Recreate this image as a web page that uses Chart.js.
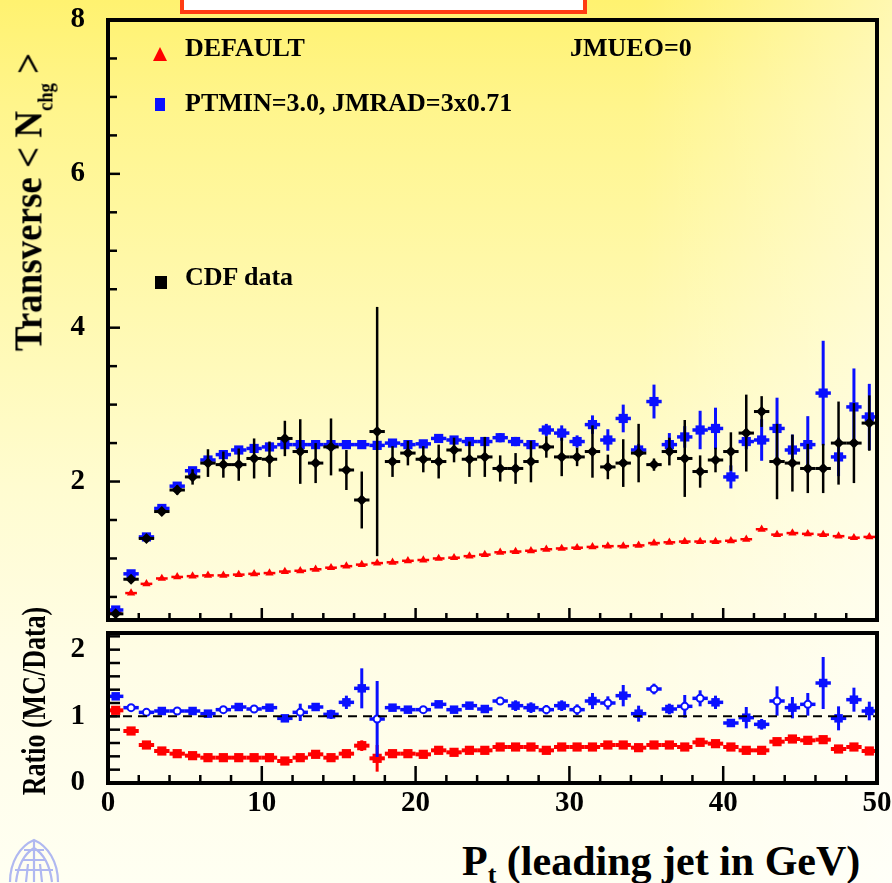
<!DOCTYPE html>
<html><head><meta charset="utf-8">
<script src="https://cdn.jsdelivr.net/npm/chart.js@4.4.1/dist/chart.umd.min.js"></script>
<style>
html,body{margin:0;padding:0;width:892px;height:883px;overflow:hidden}
body{position:relative;
 background:
  linear-gradient(to right, rgba(255,255,255,0) 72%, rgba(255,255,255,0.45) 100%),
  linear-gradient(to bottom, #fff270 0%, #fff58c 12%, #fff9b0 35%, #fffcd0 55%, #fffde6 75%, #fffff2 100%);
 font-family:"Liberation Serif","DejaVu Serif",serif;font-weight:bold;color:#000}
canvas{position:absolute;left:0}
#c1{top:0}
#c2{top:624px}
.t{position:absolute;white-space:nowrap;line-height:1}
.leg{font-size:26px}
.rot{position:absolute;width:0;height:0}
.rot > span{position:absolute;left:0;top:0;white-space:nowrap;line-height:1;transform-origin:center center}
.sub{position:relative;font-size:0.5em}
#redbox{position:absolute;left:180px;top:-30px;width:407px;height:44px;box-sizing:border-box;border:4px solid #ff3c12;background:#fff}
</style></head>
<body>
<div id="redbox"></div>
<canvas id="c1" width="892" height="640" style="width:892px;height:640px"></canvas>
<canvas id="c2" width="892" height="210" style="width:892px;height:210px"></canvas>

<!-- legend -->
<svg style="position:absolute;left:153px;top:47px" width="14" height="14"><polygon points="7,0 14,14 0,14" fill="#ff0000"/></svg>
<div class="t leg" style="left:185px;top:35px">DEFAULT</div>
<div class="t leg" style="left:570px;top:35px">JMUEO=0</div>
<div style="position:absolute;left:155px;top:98px;width:10px;height:13px;background:#0a10ff"></div>
<div class="t leg" style="left:185px;top:90px">PTMIN=3.0, JMRAD=3x0.71</div>
<div style="position:absolute;left:155px;top:276px;width:12px;height:13px;background:#000"></div>
<div class="t leg" style="left:185px;top:264px">CDF data</div>

<!-- axis titles -->
<div class="rot" style="left:28px;top:202px"><span style="font-size:37px;transform:translate(-50%,-50%) rotate(-90deg) scaleY(1.1)">Transverse &lt; N<span class="sub" style="top:0.55em">chg</span> &gt;</span></div>
<div class="rot" style="left:35px;top:701px"><span style="font-size:26px;transform:translate(-50%,-50%) rotate(-90deg) scaleY(1.3)">Ratio (MC/Data)</span></div>
<div class="t" style="left:462px;top:840px;font-size:42px">P<span class="sub" style="font-size:0.62em;top:0.3em">t</span> (leading jet in GeV)</div>

<!-- logo -->
<svg style="position:absolute;left:6px;top:836px;opacity:0.55" width="56" height="47" viewBox="0 0 56 47">
 <g fill="none" stroke="#6f7ff0" stroke-width="2.2">
  <path d="M4,46 C4,26 14,10 28,4 C42,10 52,26 52,46"/>
  <path d="M10,46 C12,30 18,18 28,12 C38,18 44,30 46,46"/>
  <path d="M28,4 L28,46 M16,24 L40,24 M9,34 L47,34 M18,14 L38,14"/>
  <path d="M20,46 L22,28 M36,46 L34,28"/>
 </g>
</svg>

<script>
// ---------------- data ----------------
const binCenters = [0.5,1.5,2.5,3.5,4.5,5.5,6.5,7.5,8.5,9.5,10.5,11.5,12.5,13.5,14.5,15.5,16.5,17.5,18.5,19.5,
  20.5,21.5,22.5,23.5,24.5,25.5,26.5,27.5,28.5,29.5,30.5,31.5,32.5,33.5,34.5,35.5,36.5,37.5,38.5,39.5,
  40.5,41.5,42.5,43.5,44.5,45.5,46.5,47.5,48.5,49.5];

const defaultVals = [0.30,0.55,0.67,0.74,0.76,0.77,0.78,0.78,0.79,0.80,
  0.81,0.83,0.84,0.86,0.88,0.90,0.92,0.94,0.95,0.97,
  0.98,1.00,1.01,1.03,1.05,1.08,1.09,1.10,1.12,1.13,
  1.14,1.15,1.16,1.16,1.17,1.20,1.21,1.22,1.22,1.22,
  1.23,1.25,1.38,1.31,1.33,1.32,1.31,1.29,1.27,1.28];
const defaultErr = [0.02,0.02,0.02,0.02,0.02,0.02,0.02,0.02,0.02,0.02,0.02,0.02,0.02,0.02,0.02,0.02,0.02,0.02,0.02,0.02,
  0.02,0.02,0.02,0.02,0.02,0.02,0.02,0.02,0.02,0.02,0.02,0.02,0.02,0.02,0.02,0.02,0.02,0.02,0.02,0.02,
  0.02,0.02,0.02,0.02,0.02,0.02,0.02,0.02,0.02,0.02];

const tunedVals = [0.33,0.80,1.28,1.65,1.94,2.14,2.28,2.35,2.41,2.43,
  2.45,2.48,2.48,2.48,2.48,2.48,2.48,2.47,2.50,2.48,
  2.49,2.56,2.54,2.52,2.52,2.57,2.52,2.48,2.67,2.63,
  2.52,2.74,2.54,2.82,2.41,3.04,2.48,2.58,2.67,2.69,
  2.06,2.52,2.54,2.69,2.41,2.48,3.15,2.32,2.97,2.84];
const tunedErr = [0.03,0.03,0.03,0.03,0.03,0.03,0.03,0.03,0.03,0.03,
  0.03,0.03,0.03,0.03,0.03,0.03,0.04,0.04,0.04,0.04,
  0.04,0.05,0.05,0.05,0.05,0.06,0.06,0.06,0.08,0.10,
  0.08,0.12,0.14,0.18,0.08,0.22,0.15,0.14,0.25,0.27,
  0.15,0.10,0.27,0.40,0.20,0.37,0.68,0.25,0.50,0.43];

const cdfVals = [0.28,0.73,1.26,1.61,1.89,2.06,2.24,2.22,2.22,2.30,
  2.29,2.56,2.39,2.24,2.45,2.15,1.76,2.65,2.26,2.37,
  2.29,2.26,2.41,2.29,2.32,2.17,2.17,2.26,2.45,2.32,
  2.32,2.39,2.19,2.24,2.37,2.22,2.39,2.30,2.13,2.28,
  2.39,2.63,2.91,2.26,2.24,2.17,2.17,2.50,2.50,2.76];
const cdfErr = [0.02,0.03,0.04,0.05,0.06,0.10,0.18,0.17,0.21,0.26,
  0.23,0.23,0.42,0.26,0.37,0.26,0.37,1.62,0.20,0.16,
  0.17,0.22,0.16,0.23,0.26,0.17,0.20,0.27,0.14,0.25,
  0.12,0.34,0.16,0.31,0.38,0.08,0.18,0.50,0.21,0.16,
  0.25,0.50,0.20,0.49,0.37,0.32,0.32,0.54,0.52,0.36];

const ratioDefault = [1.09,0.78,0.57,0.48,0.44,0.41,0.38,0.38,0.38,0.38,
  0.38,0.33,0.38,0.43,0.38,0.44,0.56,0.37,0.44,0.44,
  0.43,0.49,0.46,0.49,0.49,0.54,0.54,0.54,0.49,0.54,
  0.54,0.54,0.57,0.57,0.53,0.57,0.57,0.54,0.61,0.59,
  0.54,0.49,0.49,0.62,0.66,0.64,0.65,0.51,0.54,0.48];
const ratioDefaultErr = [0.03,0.03,0.03,0.03,0.03,0.03,0.03,0.03,0.03,0.03,
  0.03,0.03,0.03,0.03,0.03,0.03,0.08,0.20,0.03,0.03,
  0.03,0.03,0.03,0.03,0.03,0.03,0.03,0.03,0.03,0.03,
  0.03,0.03,0.03,0.03,0.03,0.03,0.03,0.03,0.03,0.03,
  0.03,0.03,0.03,0.05,0.05,0.05,0.05,0.05,0.04,0.04];

const ratioTuned = [1.30,1.13,1.06,1.08,1.08,1.08,1.04,1.10,1.14,1.11,
  1.13,0.97,1.06,1.14,1.03,1.21,1.42,0.96,1.13,1.10,
  1.10,1.18,1.10,1.16,1.11,1.23,1.16,1.13,1.10,1.16,
  1.10,1.23,1.20,1.31,1.04,1.41,1.11,1.15,1.27,1.21,
  0.90,0.98,0.88,1.23,1.13,1.18,1.50,0.97,1.25,1.08];
const ratioTunedErr = [0.04,0.04,0.03,0.03,0.03,0.03,0.03,0.04,0.05,0.05,
  0.05,0.05,0.13,0.06,0.07,0.10,0.30,0.57,0.05,0.05,
  0.04,0.05,0.05,0.05,0.05,0.06,0.08,0.08,0.07,0.08,
  0.08,0.12,0.10,0.16,0.12,0.08,0.08,0.17,0.12,0.10,
  0.06,0.16,0.08,0.22,0.16,0.17,0.39,0.18,0.18,0.14];

const upperYTicks = [2,4,6,8];
const ratioYTicks = [0,1,2];
const xTickLabels = [0,10,20,30,40,50];

// ---------------- styling ----------------
const hollowRatioBins = [1,2,4,7,9,12,17,20,25,28,30,32,35,37,38,43,45];
const RED = '#ff0000', BLUE = '#0a10ff', BLACK = '#000000';
const LABEL_FONT = 'bold 29px "Liberation Serif", serif';

const pts = vals => binCenters.map((x,i)=>({x:x, y:vals[i]}));

function plotBox(chart){
  const xs = chart.scales.x, ys = chart.scales.y;
  return {left:xs.getPixelForValue(xs.min), right:xs.getPixelForValue(xs.max),
          top:ys.getPixelForValue(ys.max), bottom:ys.getPixelForValue(ys.min)};
}

const errorBars = {
  id:'errbars',
  beforeDatasetDraw(chart, args){
    const ds = chart.data.datasets[args.index];
    if (!ds.errY) return;
    const ctx = chart.ctx; const a = plotBox(chart);
    const xs = chart.scales.x, ys = chart.scales.y;
    ctx.save();
    ctx.beginPath(); ctx.rect(a.left, a.top, a.right-a.left, a.bottom-a.top); ctx.clip();
    ctx.strokeStyle = ds.barColor; ctx.lineCap = 'butt';
    ds.data.forEach((p,i)=>{
      const cx = xs.getPixelForValue(p.x), cy = ys.getPixelForValue(p.y);
      ctx.lineWidth = ds.barWidthX;
      ctx.beginPath();
      ctx.moveTo(xs.getPixelForValue(p.x - ds.errX), cy);
      ctx.lineTo(xs.getPixelForValue(p.x + ds.errX), cy);
      ctx.stroke();
      const e = ds.errY[i];
      if (e) {
        ctx.lineWidth = ds.barWidthY;
        ctx.beginPath();
        ctx.moveTo(cx, ys.getPixelForValue(p.y - e));
        ctx.lineTo(cx, ys.getPixelForValue(p.y + e));
        ctx.stroke();
      }
    });
    ctx.restore();
  }
};

// frame, inward ticks, tick labels and reference line, all placed through the chart scales
const frame = {
  id:'frame',
  afterDraw(chart, args, o){
    const ctx = chart.ctx; const a = plotBox(chart);
    const xs = chart.scales.x, ys = chart.scales.y;
    ctx.save();
    ctx.strokeStyle = '#000'; ctx.fillStyle = '#000'; ctx.lineCap = 'butt';
    if (o.refLine !== undefined) {
      const py = ys.getPixelForValue(o.refLine);
      ctx.lineWidth = 2; ctx.setLineDash([9,6]);
      ctx.beginPath(); ctx.moveTo(a.left, py); ctx.lineTo(a.right, py); ctx.stroke();
      ctx.setLineDash([]);
    }
    ctx.lineWidth = 2.5;
    const isMul = (v, m) => Math.abs(v/m - Math.round(v/m)) < 1e-6;
    for (let k = Math.ceil(xs.min/o.xMinor - 1e-9); k*o.xMinor <= xs.max + 1e-9; k++) {
      const v = k*o.xMinor; if (v <= xs.min + 1e-9 || v >= xs.max - 1e-9) continue;
      const px = xs.getPixelForValue(v);
      const len = isMul(v, o.xMajor) ? o.xMajorLen : o.xMinorLen;
      ctx.beginPath(); ctx.moveTo(px, a.bottom); ctx.lineTo(px, a.bottom - len); ctx.stroke();
    }
    for (let k = Math.ceil(ys.min/o.yMinor - 1e-9); k*o.yMinor <= ys.max + 1e-9; k++) {
      const v = k*o.yMinor; if (v <= ys.min + 1e-9 || v >= ys.max - 1e-9) continue;
      const py = ys.getPixelForValue(v);
      const len = isMul(v, o.yMajor) ? o.yMajorLen : o.yMinorLen;
      ctx.beginPath(); ctx.moveTo(a.left, py); ctx.lineTo(a.left + len, py); ctx.stroke();
    }
    ctx.lineWidth = 4;
    ctx.strokeRect(a.left, a.top, a.right - a.left, a.bottom - a.top);
    // tick labels
    ctx.font = LABEL_FONT;
    if (o.yLabels) {
      ctx.textAlign = 'right'; ctx.textBaseline = 'middle';
      o.yLabels.forEach(v => ctx.fillText(String(v), a.left - 23, ys.getPixelForValue(v)));
    }
    if (o.xLabels) {
      ctx.textAlign = 'center'; ctx.textBaseline = 'middle';
      o.xLabels.forEach(v => ctx.fillText(String(v), xs.getPixelForValue(v), a.bottom + 21));
    }
    ctx.restore();
  }
};

const hiddenAxis = {grid:{display:false, drawTicks:false}, border:{display:false}, ticks:{display:false}};

// ---------------- upper panel ----------------
new Chart(document.getElementById('c1'), {
  type:'scatter',
  data:{datasets:[
    {label:'CDF data', data:pts(cdfVals), errY:cdfErr, errX:0.5, barColor:BLACK, barWidthX:3, barWidthY:2.5,
     pointStyle:'rectRot', pointRadius:5.5, backgroundColor:BLACK, borderColor:BLACK, borderWidth:0},
    {label:'PTMIN=3.0, JMRAD=3x0.71', data:pts(tunedVals), errY:tunedErr, errX:0.5, barColor:BLUE, barWidthX:3.5, barWidthY:3,
     pointStyle:'rect', pointRadius:6.5, backgroundColor:BLUE, borderColor:BLUE, borderWidth:0},
    {label:'DEFAULT', data:pts(defaultVals), errY:defaultErr, errX:0.38, barColor:RED, barWidthX:2.5, barWidthY:1.5,
     pointStyle:'triangle', pointRadius:4.8, backgroundColor:RED, borderColor:RED, borderWidth:0}
  ]},
  options:{
    responsive:false, animation:false, events:[],
    layout:{autoPadding:false, padding:{left:0, right:15, top:20, bottom:20}},
    plugins:{legend:{display:false}, tooltip:{enabled:false},
      frame:{xMinor:2, xMajor:10, xMinorLen:7, xMajorLen:12, yMinor:0.5, yMajor:2, yMinorLen:9, yMajorLen:12,
             yLabels:upperYTicks}},
    scales:{
      x:{type:'linear', min:0, max:50, display:false},
      y:Object.assign({type:'linear', min:0.2, max:8, afterFit: s => { s.width = 108; }}, hiddenAxis)
    }
  },
  plugins:[errorBars, frame]
});

// ---------------- ratio panel ----------------
new Chart(document.getElementById('c2'), {
  type:'scatter',
  data:{datasets:[
    {label:'PTMIN=3.0, JMRAD=3x0.71 / data', data:pts(ratioTuned), errY:ratioTunedErr, errX:0.5, barColor:BLUE, barWidthX:3.5, barWidthY:3,
     pointStyle: c => hollowRatioBins.includes(c.dataIndex) ? 'circle' : 'rect',
     pointRadius: c => hollowRatioBins.includes(c.dataIndex) ? 3.5 : 6,
     backgroundColor: c => hollowRatioBins.includes(c.dataIndex) ? '#ffffff' : BLUE,
     borderColor:BLUE, borderWidth: c => hollowRatioBins.includes(c.dataIndex) ? 2 : 0},
    {label:'DEFAULT / data', data:pts(ratioDefault), errY:ratioDefaultErr, errX:0.5, barColor:RED, barWidthX:4, barWidthY:3,
     pointStyle:'rect', pointRadius:6.5, backgroundColor:RED, borderColor:RED, borderWidth:0}
  ]},
  options:{
    responsive:false, animation:false, events:[],
    layout:{autoPadding:false, padding:{left:0, right:15, top:9, bottom:51}},
    plugins:{legend:{display:false}, tooltip:{enabled:false},
      frame:{refLine:1, xMinor:2, xMajor:10, xMinorLen:8, xMajorLen:17, yMinor:0.2, yMajor:1, yMinorLen:12, yMajorLen:12,
             yLabels:ratioYTicks, xLabels:xTickLabels}},
    scales:{
      x:{type:'linear', min:0, max:50, display:false},
      y:Object.assign({type:'linear', min:0, max:2.25, afterFit: s => { s.width = 108; }}, hiddenAxis)
    }
  },
  plugins:[errorBars, frame]
});
</script>
</body></html>
